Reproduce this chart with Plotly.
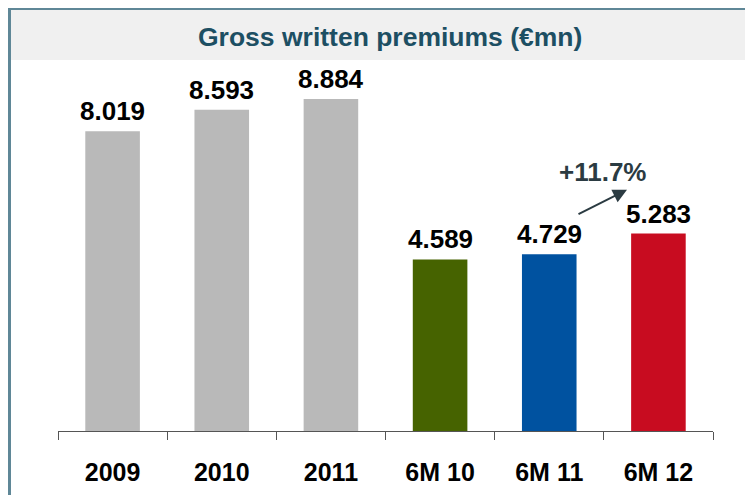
import plotly.graph_objects as go

categories = ["2009", "2010", "2011", "6M 10", "6M 11", "6M 12"]
values = [8019, 8593, 8884, 4589, 4729, 5283]
colors = ["#b9b9b9", "#b9b9b9", "#b9b9b9", "#466300", "#0052a0", "#c80c20"]
title_text = "Gross written premiums (€mn)"

labels = [f"{v:,}".replace(",", ".") for v in values]
growth = (values[5] / values[4] - 1) * 100
growth_text = f"+{growth:.1f}%"
positions = list(range(len(categories)))
boundaries = [p - 0.5 for p in positions] + [positions[-1] + 0.5]

# page offset (HTML body margin)
OFF = 8
W, H = 753, 495
axis_px = 431.5 - OFF
left_px = 58 - OFF
right_px = 713 - OFF
top_px = 70 - OFF
L, R, T, B = left_px, W - right_px, top_px, H - axis_px
plot_w = W - L - R
plot_h = H - T - B
px_per_unit = (431.5 - 99) / values[2]
ymax = plot_h / px_per_unit

FONT = "Arial, Liberation Sans, sans-serif"

fig = go.Figure()
fig.add_trace(go.Bar(
    x=positions, y=values, marker=dict(color=colors, line=dict(width=0)),
    width=0.5, hoverinfo="skip", showlegend=False,
))

def px_x(p):
    # p in page pixels
    return (p - OFF - L) / plot_w

def px_y(p):
    return (H - B - (p - OFF)) / plot_h

annotations = []
for p, v, t in zip(positions, values, labels):
    annotations.append(dict(
        x=p, y=v, xref="x", yref="y", text=f"<b>{t}</b>", showarrow=False,
        yanchor="bottom", yshift=3,
        font=dict(family=FONT, size=26, color="#000000"),
    ))

annotations.append(dict(
    x=px_x(390), y=px_y(37), xref="paper", yref="paper", text=f"<b>{title_text}</b>",
    showarrow=False, xanchor="center", yanchor="middle",
    font=dict(family=FONT, size=26.5, color="#1d4f63"),
))
annotations.append(dict(
    x=px_x(602), y=px_y(172), xref="paper", yref="paper", text=f"<b>{growth_text}</b>",
    showarrow=False, xanchor="center", yanchor="middle",
    font=dict(family=FONT, size=26, color="#2b3b42"),
))
annotations.append(dict(
    x=px_x(627), y=px_y(190), xref="paper", yref="paper", text="",
    showarrow=True, ax=-50, ay=25, axref="pixel", ayref="pixel",
    arrowhead=2, arrowsize=1.4, arrowwidth=2, arrowcolor="#2b3b42",
))

shapes = [
    dict(type="rect", xref="paper", yref="paper",
         x0=px_x(10.5), x1=px_x(780), y0=px_y(60), y1=px_y(9.5),
         fillcolor="#f0f0f0", line=dict(width=0), layer="below"),
    dict(type="line", xref="paper", yref="paper",
         x0=px_x(8), x1=px_x(780), y0=px_y(9), y1=px_y(9),
         line=dict(color="#5f8797", width=2)),
    dict(type="line", xref="paper", yref="paper",
         x0=px_x(9.5), x1=px_x(9.5), y0=px_y(8), y1=px_y(520),
         line=dict(color="#5f8797", width=3)),
]

fig.update_layout(
    width=W, height=H,
    margin=dict(l=L, r=R, t=T, b=B, pad=0),
    paper_bgcolor="white", plot_bgcolor="white",
    annotations=annotations, shapes=shapes,
    xaxis=dict(
        type="linear", range=[boundaries[0], boundaries[-1]],
        tickmode="array", tickvals=positions,
        ticktext=[f"<b>{c}</b>" for c in categories],
        ticks="", showline=True, linecolor="#555555",
        linewidth=1, showgrid=False, zeroline=False, automargin=False,
        tickfont=dict(family=FONT, size=25, color="#000000"),
        ticklabelstandoff=19,
        minor=dict(tickmode="array", tickvals=boundaries, ticks="outside",
                   ticklen=8, tickcolor="#555555", tickwidth=1, showgrid=False),
    ),
    yaxis=dict(range=[0, ymax], visible=False, showgrid=False,
               zeroline=False, automargin=False),
    bargap=0.5,
)

fig.write_html("out.html")
